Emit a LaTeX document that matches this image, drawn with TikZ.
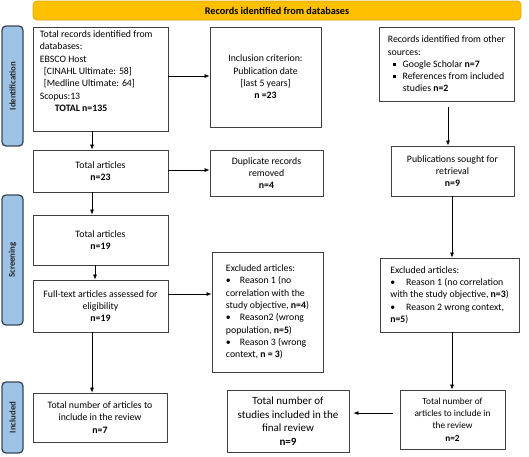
\documentclass[tikz,border=0pt]{standalone}
\usepackage{fontspec}
\setmainfont{Carlito}
\usetikzlibrary{arrows.meta}
\definecolor{bannerfill}{HTML}{FFC000}
\definecolor{bannerline}{HTML}{E3A700}
\definecolor{sidefill}{HTML}{9DC3E6}
\definecolor{sideline}{HTML}{3B4656}
\definecolor{boxline}{HTML}{404040}
\newcommand\sqbul{\rule[1.8pt]{2.8pt}{2.8pt}}
\begin{document}
\begin{tikzpicture}[x=1pt,y=-1pt,
  box/.style={draw=boxline, line width=0.8pt, inner sep=0pt, align=center,
    font=\fontsize{9.8}{12.3}\selectfont},
  lbox/.style={box, align=left},
  sidebox/.style={draw=sideline, fill=sidefill, line width=1.3pt, rounded corners=4pt,
    minimum height=21pt, inner sep=0pt, rotate=90, text=black!85,
    font=\bfseries\fontsize{8.8}{10}\selectfont},
  banner/.style={draw=bannerline, fill=bannerfill, line width=0.8pt, rounded corners=4pt,
    inner sep=0pt, font=\bfseries\fontsize{10.2}{11}\selectfont},
  txt/.style={inner sep=0pt, align=left, font=\fontsize{9.8}{12.3}\selectfont},
  arr/.style={-{Latex[length=5pt,width=4pt]}, line width=0.7pt}]
\useasboundingbox (0,0) rectangle (529,456);

% banner and phase labels
\node[banner, minimum width=488pt, minimum height=19pt] (top) at (277,10.5) {Records identified from databases};
\node[sidebox, minimum width=120pt] (s1) at (12.5,86) {Identification};
\node[sidebox, minimum width=130pt] (s2) at (12.5,260) {Screening};
\node[sidebox, minimum width=71pt] (s3) at (12.5,417.5) {Included};

% left column
\node[box, minimum width=135pt, minimum height=104pt] (b1) at (100.5,79) {};
\node[txt, anchor=north west, xshift=7pt, yshift=-4pt] (t1) at (b1.north west)
  {Total records identified from\\
   databases:\\
   EBSCO Host\\
   \hspace*{4pt}[CINAHL Ultimate: 58]\\
   \hspace*{4pt}[Medline Ultimate: 64]\\
   Scopus:13\\
   \hspace*{15pt}\textbf{TOTAL n=135}};
\node[box, minimum width=135pt, minimum height=42pt] (b4) at (100.5,171) {Total articles\\\textbf{n=23}};
\node[box, minimum width=135pt, minimum height=50pt] (b7) at (100.5,240) {Total articles\\\textbf{n=19}};
\node[box, minimum width=135pt, minimum height=52pt] (b8) at (100.5,306) {Full-text articles assessed for\\eligibility\\\textbf{n=19}};
\node[box, minimum width=134pt, minimum height=49pt] (b13) at (100,417.5) {Total number of articles to\\include in the review\\\textbf{n=7}};

% middle column
\node[box, minimum width=111pt, minimum height=100pt] (b2) at (265.5,77) {Inclusion criterion:\\Publication date\\{}[last 5 years]\\\textbf{n =23}};
\node[box, minimum width=113pt, minimum height=46pt] (b5) at (266.5,173) {Duplicate records\\removed\\\textbf{n=4}};
\node[lbox, minimum width=111pt, minimum height=120pt] (b9) at (267.5,312)
  {Excluded articles:\\
   \textbullet\hspace{9pt}Reason 1 (no\\
   correlation with the\\
   study objective, \textbf{n=4})\\
   \textbullet\hspace{9pt}Reason2 (wrong\\
   population, \textbf{n=5})\\
   \textbullet\hspace{9pt}Reason 3 (wrong\\
   context, \textbf{n = 3})};
\node[box, minimum width=122pt, minimum height=62pt, font=\fontsize{11}{13.5}\selectfont] (b12) at (288,421)
  {Total number of\\studies included in the\\final review\\\textbf{n=9}};

% right column
\node[lbox, minimum width=135pt, minimum height=74pt] (b3) at (446.5,64)
  {Records identified from other\\
   sources:\\
   \hspace*{5pt}\sqbul\hspace{7pt}Google Scholar \textbf{n=7}\\
   \hspace*{5pt}\sqbul\hspace{7pt}References from included\\
   \hspace*{15pt}studies \textbf{n=2}};
\node[box, minimum width=123pt, minimum height=50pt] (b6) at (452.5,171) {Publications sought for\\retrieval\\\textbf{n=9}};
\node[lbox, minimum width=139pt, minimum height=74pt] (b10) at (449.5,295)
  {Excluded articles:\\
   \textbullet\hspace{11pt}Reason 1 (no correlation\\
   with the study objective, \textbf{n=3})\\
   \textbullet\hspace{11pt}Reason 2 wrong context,\\
   \textbf{n=5})};
\node[box, minimum width=105pt, minimum height=59pt, font=\fontsize{9.3}{12.3}\selectfont] (b11) at (452.5,419.5)
  {Total number of\\articles to include in\\the review\\\textbf{n=2}};

% connector guide coordinates
\coordinate (xL) at (92,0);
\coordinate (xL2) at (95,0);
\coordinate (xR0) at (448,0);
\coordinate (xR) at (452,0);
\coordinate (yA) at (0,76);
\coordinate (yB) at (0,170);
\coordinate (yC) at (0,294);
\coordinate (yD) at (0,413);

% connectors
\draw[arr] (b1.south -| xL) -- (b4.north -| xL);
\draw[arr] (b1.east |- yA) -- (b2.west |- yA);
\draw[arr] (b4.east |- yB) -- (b5.west |- yB);
\draw[arr] (b4.south -| xL) -- (b7.north -| xL);
\draw[arr] (b7.south -| xL2) -- (b8.north -| xL2);
\draw[arr] (b8.east |- yC) -- (b9.west |- yC);
\draw[arr] (b8.south -| xL) -- (b13.north -| xL);
\draw[arr, shorten <=6pt] (b3.south -| xR0) -- (b6.north -| xR0);
\draw[arr] (b6.south -| xR) -- (b10.north -| xR);
\draw[arr] (b10.south -| xR) -- (b11.north -| xR);
\draw[arr, shorten <=7pt, shorten >=4pt] (b11.west |- yD) -- (b12.east |- yD);
\end{tikzpicture}
\end{document}
